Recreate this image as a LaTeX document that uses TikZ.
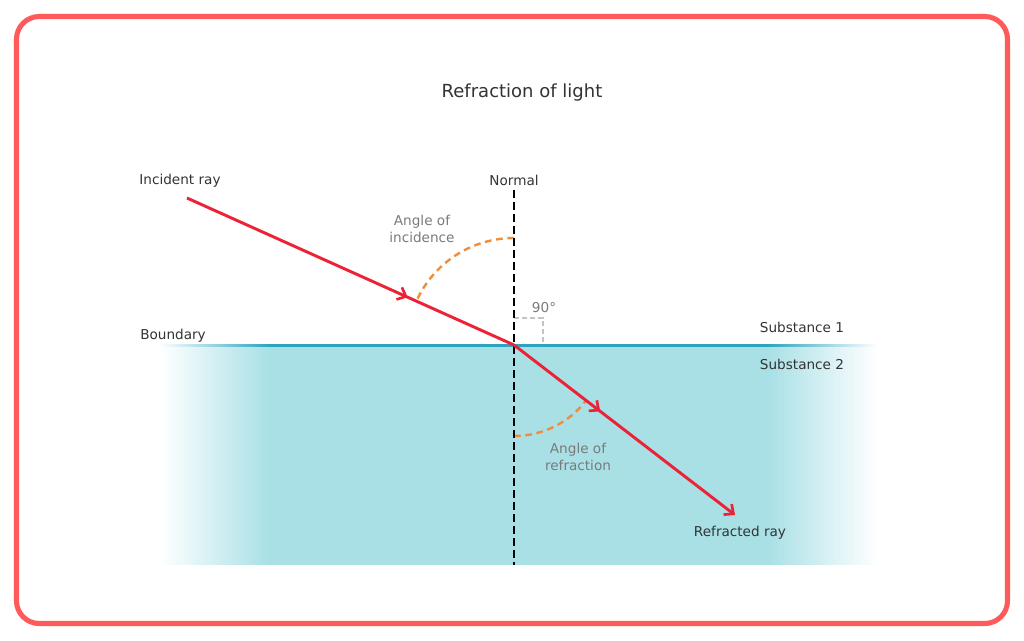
\documentclass[tikz,border=0pt]{standalone}
\usepackage{fontspec}
\setmainfont{DejaVu Sans}
\usetikzlibrary{arrows.meta,decorations.markings}
\definecolor{framered}{HTML}{FF5A5A}
\definecolor{rayred}{HTML}{EE2236}
\definecolor{water}{HTML}{A8E0E6}
\definecolor{boundcol}{HTML}{2AA5BD}
\definecolor{angorange}{HTML}{F28C38}
\definecolor{txt}{HTML}{333333}
\definecolor{graytxt}{HTML}{7A7A7A}
\definecolor{rightgray}{HTML}{C4C4C4}
\tikzset{chev/.tip={Straight Barb[length=5.5pt,width=10pt,line width=2pt]}}
\begin{document}
\begin{tikzpicture}[x=0.75pt,y=-0.75pt,
  lbl/.style={font=\fontsize{10.2}{12.8}\selectfont, text=txt, inner sep=0pt},
  glbl/.style={lbl, text=graytxt, align=center},
  ray/.style={draw=rayred, line width=2.2pt},
  midarrow/.style={postaction={decorate, decoration={markings,
      mark=at position #1 with {\arrow[rayred]{chev}}}}},
  normalline/.style={draw=black, line width=1.9pt, dash pattern=on 6pt off 3pt},
  anglearc/.style={draw=angorange, line width=1.8pt, dash pattern=on 5pt off 3.5pt},
  rightmark/.style={draw=rightgray, line width=1.1pt, dash pattern=on 4pt off 2pt}
]
\useasboundingbox (0,0) rectangle (1024,640);
% frame
\draw[framered, line width=3.8pt, rounded corners=17pt] (16.5,16.5) rectangle (1007.5,623.5);

% water: solid middle, fading strips at both ends
\fill[water] (268,346) rectangle (770.5,565);
\fill[boundcol] (268,343.5) rectangle (770.5,347);
\foreach \i in {0,...,54}{
  \pgfmathsetmacro{\p}{(\i+0.5)/55*100}
  \pgfmathsetmacro{\xa}{160+2*\i}
  \pgfmathsetmacro{\xb}{878-2*\i}
  \fill[water!\p!white] (\xa,346) rectangle ++(2.4,219);
  \fill[water!\p!white] (\xb,346) rectangle ++(-2.4,219);
  \fill[boundcol!\p!white] (\xa,343.5) rectangle ++(2.4,3.5);
  \fill[boundcol!\p!white] (\xb,343.5) rectangle ++(-2.4,3.5);
}

% coordinates
\coordinate (O) at (514,345);
\coordinate (inc) at (187,198);
\coordinate (refr) at (735,515);
\coordinate (ntop) at (514,190);
\coordinate (nbot) at (514,565);
\coordinate (ra1) at (514,318);
\coordinate (ra2) at (543,318);
\coordinate (ra3) at (543,345);

% right angle
\draw[rightmark] (ra1) -- (ra2) -- (ra3);

% angle arcs
\draw[anglearc] (O) ++(-90:107) arc[start angle=-90, end angle=-155.8, radius=107];
\draw[anglearc] (O) ++(90:91) arc[start angle=90, end angle=37.6, radius=91];

% normal
\draw[normalline] (ntop) -- (nbot);

% rays
\draw[ray, midarrow=0.675] (inc) -- (O);
\draw[ray, midarrow=0.39, -{chev}] (O) -- (refr);

% labels
\node[lbl, font=\fontsize{13.5}{16}\selectfont] (title) at (522,93) {Refraction of light};
\node[lbl] (lincident) at (180,181) {Incident ray};
\node[lbl] (lnormal) at (514,180) {Normal};
\node[glbl] (langinc) at (422,229) {Angle of\\incidence};
\node[glbl] (l90) at (544,308) {90°};
\node[lbl] (lbound) at (173,336) {Boundary};
\node[lbl] (lsub1) at (802,327) {Substance 1};
\node[lbl] (lsub2) at (802,364) {Substance 2};
\node[glbl] (langref) at (578,457) {Angle of\\refraction};
\node[lbl] (lrefr) at (740,533) {Refracted ray};
\end{tikzpicture}
\end{document}
